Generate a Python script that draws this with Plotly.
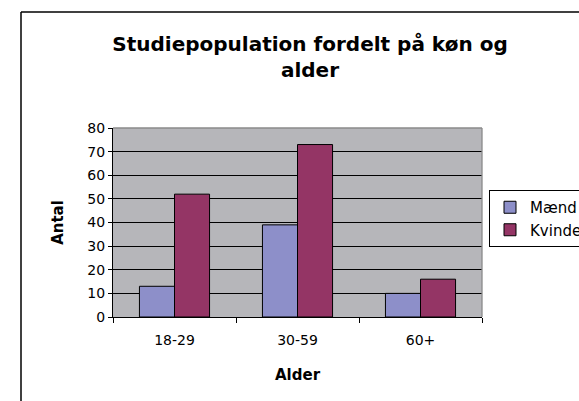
import plotly.graph_objects as go

categories = ["18-29", "30-59", "60+"]
maend = [13, 39, 10]
kvinder = [52, 73, 16]
y_ticks = [0, 10, 20, 30, 40, 50, 60, 70, 80]

W, H = 579, 401
L, R, T, B = 113, 97, 128, 84
pw, ph = W - L - R, H - T - B

def px_x(x):
    return (x - L) / pw

def px_y(y):
    return (H - B - y) / ph

FONT = "DejaVu Sans, Arial, sans-serif"

fig = go.Figure()
fig.add_trace(go.Bar(name="Mænd", x=categories, y=maend,
                     marker=dict(color="#8d8fc9", line=dict(color="black", width=1))))
fig.add_trace(go.Bar(name="Kvinder", x=categories, y=kvinder,
                     marker=dict(color="#943565", line=dict(color="black", width=1))))

fig.update_layout(
    width=W, height=H,
    margin=dict(l=L, r=R, t=T, b=B, autoexpand=False),
    paper_bgcolor="white", plot_bgcolor="#b6b6ba",
    barmode="group", bargap=0.43, bargroupgap=0,
    font=dict(family=FONT, color="black", size=14),
    title=dict(text="<b>Studiepopulation fordelt på køn og<br>alder</b>",
               x=px_x(310), xanchor="center", xref="paper",
               y=1 - 51 / H, yanchor="top",
               font=dict(size=20)),
    showlegend=True,
    legend=dict(x=px_x(489), xanchor="left", y=px_y(190), yanchor="top",
                bordercolor="black", borderwidth=1, bgcolor="white",
                font=dict(size=15), itemwidth=30, tracegroupgap=0),
    xaxis=dict(showline=True, linecolor="black", linewidth=1,
               ticks="outside", ticklen=5, tickcolor="black",
               tickson="boundaries", showgrid=False, ticklabelstandoff=10,
               title=dict(text="<b>Alder</b>", font=dict(size=15), standoff=22),
               tickfont=dict(size=14)),
    yaxis=dict(range=[0, 80], tickvals=y_ticks, showline=True, linecolor="black",
               linewidth=1, ticks="outside", ticklen=4, tickcolor="black",
               showgrid=True, gridcolor="black", gridwidth=1.3, zeroline=False,
               title=dict(text="<b>Antal</b>", font=dict(size=15), standoff=20),
               tickfont=dict(size=14)),
)

# plot area grey border top/right
fig.add_shape(type="line", xref="paper", yref="paper", x0=0, x1=1, y0=1, y1=1,
              line=dict(color="#8a8a8a", width=1.3), layer="above")
fig.add_shape(type="line", xref="paper", yref="paper", x0=1, x1=1, y0=0, y1=1,
              line=dict(color="#8a8a8a", width=1.3), layer="above")
# outer chart frame (left and top edges visible)
fig.add_shape(type="line", xref="paper", yref="paper",
              x0=px_x(21), x1=px_x(21), y0=px_y(12), y1=px_y(420),
              line=dict(color="black", width=1.5))
fig.add_shape(type="line", xref="paper", yref="paper",
              x0=px_x(21), x1=px_x(620), y0=px_y(12), y1=px_y(12),
              line=dict(color="black", width=1.5))

fig.write_html("out.html", config={"displayModeBar": False},
               post_script="document.body.style.margin='0';")
